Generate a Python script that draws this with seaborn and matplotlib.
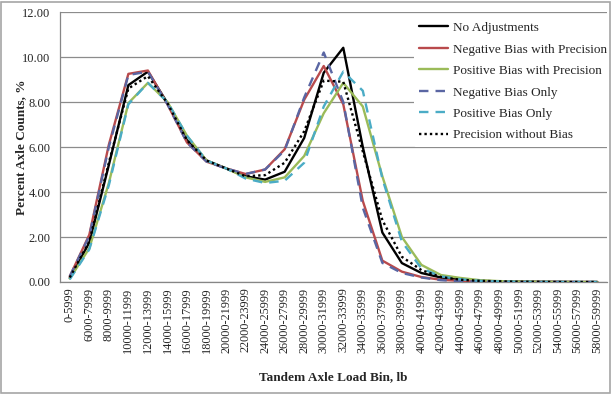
import numpy as np
import pandas as pd
import matplotlib
matplotlib.use("Agg")
import matplotlib.pyplot as plt
from matplotlib.patches import Rectangle
import seaborn as sns

# Load bins (x categories)
bins = ["0-5999", "6000-7999", "8000-9999", "10000-11999", "12000-13999",
        "14000-15999", "16000-17999", "18000-19999", "20000-21999", "22000-23999",
        "24000-25999", "26000-27999", "28000-29999", "30000-31999", "32000-33999",
        "34000-35999", "36000-37999", "38000-39999", "40000-41999", "42000-43999",
        "44000-45999", "46000-47999", "48000-49999", "50000-51999", "52000-53999",
        "54000-55999", "56000-57999", "58000-59999"]

# Percent axle counts per series
no_adj = [0.18, 1.75, 5.2, 8.75, 9.35, 7.95, 6.3, 5.4, 5.05, 4.7, 4.55, 4.9, 6.4, 9.3,
          10.41, 6.0, 2.2, 0.84, 0.4, 0.2, 0.1, 0.05, 0.03, 0.02, 0.01, 0.01, 0.0, 0.0]
neg_prec = [0.25, 2.1, 6.1, 9.25, 9.4, 7.9, 6.2, 5.35, 5.05, 4.8, 5.0, 5.9, 8.1, 9.6,
            7.9, 3.6, 0.95, 0.46, 0.22, 0.1, 0.05, 0.02, 0.01, 0.01, 0.0, 0.0, 0.0, 0.0]
pos_prec = [0.15, 1.5, 4.4, 7.95, 8.85, 8.0, 6.5, 5.4, 5.05, 4.65, 4.45, 4.65, 5.6, 7.5,
            8.85, 7.8, 4.7, 2.0, 0.76, 0.31, 0.18, 0.08, 0.04, 0.02, 0.01, 0.0, 0.0, 0.0]
neg_only = [0.25, 2.05, 6.0, 9.2, 9.35, 7.9, 6.2, 5.35, 5.05, 4.8, 5.0, 5.85, 8.2, 10.2,
            8.0, 3.3, 0.85, 0.4, 0.2, 0.08, 0.04, 0.02, 0.01, 0.0, 0.0, 0.0, 0.0, 0.0]
pos_only = [0.12, 1.45, 4.3, 7.9, 8.85, 8.0, 6.5, 5.4, 5.05, 4.6, 4.4, 4.5, 5.3, 7.8,
            9.35, 8.5, 4.6, 1.8, 0.6, 0.25, 0.12, 0.05, 0.02, 0.01, 0.0, 0.0, 0.0, 0.0]
prec_no_bias = [0.2, 1.8, 5.3, 8.6, 9.15, 7.95, 6.3, 5.4, 5.05, 4.7, 4.75, 5.3, 6.7, 8.95,
                8.9, 5.8, 2.75, 1.12, 0.53, 0.22, 0.1, 0.05, 0.03, 0.01, 0.01, 0.0, 0.0, 0.0]

series_names = ["No Adjustments", "Negative Bias with Precision", "Positive Bias with Precision",
                "Negative Bias Only", "Positive Bias Only", "Precision without Bias"]
series_values = [no_adj, neg_prec, pos_prec, neg_only, pos_only, prec_no_bias]
colors = ["#000000", "#B94A4C", "#9BBB59", "#5A66A3", "#4BACC6", "#000000"]
dash_specs = ["", "", "", (4, 3), (4, 3), (1, 1.3)]

pos = np.arange(len(bins))
frames = []
for name, vals in zip(series_names, series_values):
    frames.append(pd.DataFrame({"pos": pos, "pct": vals, "series": name}))
df = pd.concat(frames, ignore_index=True)

sns.set_style("white")
plt.rcParams["font.family"] = ["Liberation Serif", "DejaVu Serif"]

fig = plt.figure(figsize=(6.12, 3.94), dpi=100)
ax = fig.add_axes([60 / 612, 1 - 282 / 394, 547 / 612, 270 / 394])

sns.lineplot(data=df, x="pos", y="pct", hue="series", style="series",
             hue_order=series_names, style_order=series_names,
             palette=dict(zip(series_names, colors)),
             dashes=dict(zip(series_names, dash_specs)),
             estimator=None, linewidth=1.7, ax=ax, zorder=3)

ax.set_xlim(-0.5, len(bins) - 0.5)
ax.set_ylim(0, 12)
ax.set_yticks(np.arange(0, 12.01, 2))
ax.set_yticklabels([f"{v:.2f}" for v in np.arange(0, 12.01, 2)], fontsize=9)
ax.set_xticks(pos)
ax.set_xticklabels(bins, rotation=90, fontsize=8.8)
ax.set_xticks(np.arange(-0.5, len(bins), 1), minor=True)
ax.tick_params(axis="x", which="major", length=0, pad=4)
ax.tick_params(axis="x", which="minor", length=4, color="#868686", direction="out")
ax.tick_params(axis="y", length=4, color="#868686", direction="out", pad=3)
ax.yaxis.grid(True, color="#8C8C8C", linewidth=0.9)
ax.xaxis.grid(False)
for s in ["top", "right"]:
    ax.spines[s].set_visible(False)
for s in ["left", "bottom"]:
    ax.spines[s].set_color("#868686")
    ax.spines[s].set_linewidth(0.9)

ax.set_xlabel("Tandem Axle Load Bin, lb", fontsize=9.5, fontweight="bold")
ax.set_ylabel("Percent Axle Counts, %", fontsize=9.5, fontweight="bold")
ax.xaxis.set_label_coords((333 - 60) / 547, (282 - 371) / 270)
ax.yaxis.set_label_coords((27 - 60) / 547, 0.5)

leg = ax.legend(loc="upper left", bbox_to_anchor=(407 / 612, 1 - 10 / 394),
                bbox_transform=fig.transFigure, frameon=True, fontsize=9.5,
                handlelength=2.2, handletextpad=0.35, labelspacing=0.7,
                borderpad=0.4)
leg.get_frame().set_facecolor("white")
leg.get_frame().set_edgecolor("none")
leg.get_frame().set_alpha(1)
leg.set_zorder(5)

fig.patches.append(Rectangle((0.002, 0.003), 0.995, 0.993, transform=fig.transFigure,
                             fill=False, edgecolor="#A6A6A6", linewidth=1.2))

fig.savefig("out.png", dpi=100)
